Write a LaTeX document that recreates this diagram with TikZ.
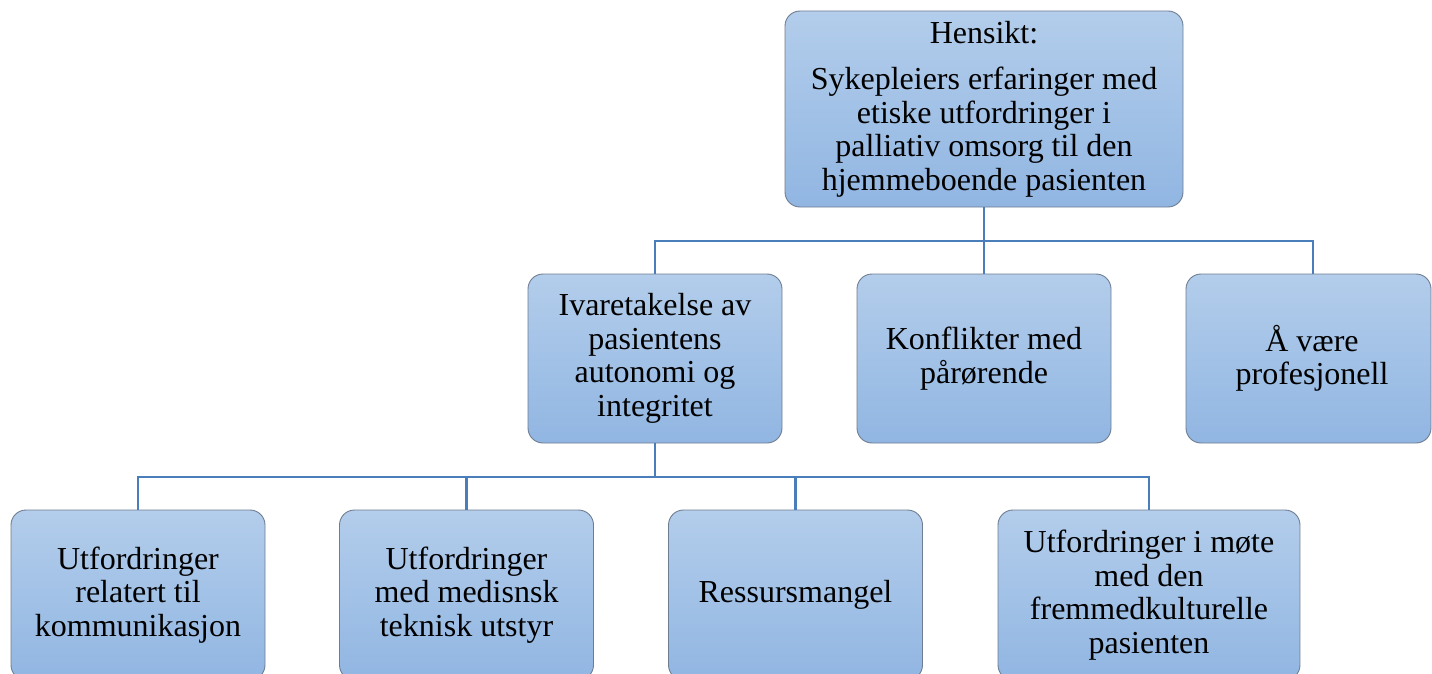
\documentclass[tikz,border=0pt]{standalone}
\usepackage{fontspec}
\setmainfont{Liberation Serif}
\definecolor{boxtop}{RGB}{179,205,235}
\definecolor{boxbot}{RGB}{145,182,226}
\definecolor{boxedge}{RGB}{110,125,145}
\definecolor{conncol}{RGB}{74,126,187}
\tikzset{
  box/.style={draw=boxedge, line width=0.9pt, rounded corners=15pt, top color=boxtop, bottom color=boxbot,
    align=center, inner sep=0pt, font=\fontsize{32}{33.5}\selectfont},
  conn/.style={draw=conncol, line width=2.8pt}
}
\begin{document}
\begin{tikzpicture}[x=1pt,y=-1pt]
\useasboundingbox (0,0) rectangle (1432,674);
% top
\node[box, minimum width=398pt, minimum height=196pt] (top) at (984,109)
  {Hensikt:\\[13pt]Sykepleiers erfaringer med\\etiske utfordringer i\\palliativ omsorg til den\\hjemmeboende pasienten};
% level 2
\node[box, minimum width=254pt, minimum height=169pt] (a) at (655,358.5)
  {Ivaretakelse av\\pasientens\\autonomi og\\integritet};
\node[box, minimum width=254pt, minimum height=169pt] (b) at (984,358.5)
  {Konflikter med\\pårørende};
\node[box, minimum width=245pt, minimum height=169pt] (c) at (1308.5,358.5)
  {\hspace*{7pt}Å være\\\hspace*{7pt}profesjonell};
% level 3
\node[box, minimum width=254pt, minimum height=170pt] (d1) at (138,595)
  {Utfordringer\\relatert til\\kommunikasjon};
\node[box, minimum width=254pt, minimum height=170pt] (d2) at (466.5,595)
  {Utfordringer\\med medisnsk\\teknisk utstyr};
\node[box, minimum width=254pt, minimum height=170pt] (d3) at (795.5,595)
  {Ressursmangel};
\node[box, minimum width=302pt, minimum height=170pt] (d4) at (1149,595)
  {Utfordringer i møte\\med den\\fremmedkulturelle\\pasienten};
% connectors
\coordinate (h1) at (984,241);
\coordinate (h2) at (655,477);
\draw[conn] (top.south) -- (h1);
\draw[conn] (h1) -| (a.north);
\draw[conn] (h1) -- (b.north);
\draw[conn] (h1) -| ([xshift=4.5pt]c.north);
\draw[conn] (a.south) -- (h2);
\draw[conn] (h2) -| (d1.north);
\draw[conn] (h2) -| (d2.north);
\draw[conn] (h2) -| (d3.north);
\draw[conn] (h2) -| (d4.north);
\end{tikzpicture}
\end{document}
